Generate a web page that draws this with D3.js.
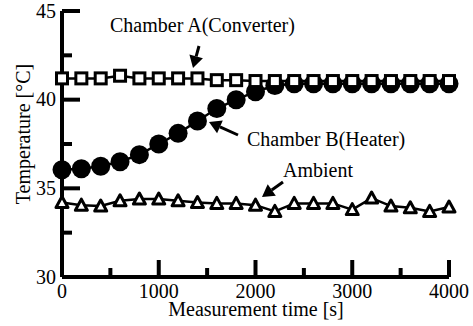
<!DOCTYPE html>
<html>
<head>
<meta charset="utf-8">
<script src="https://cdn.jsdelivr.net/npm/d3@7"></script>
<style>
  body { margin: 0; background: #fff; }
  text { font-family: "Liberation Serif", "Times New Roman", serif; fill: #000; }
</style>
</head>
<body>
<div id="chart"></div>
<script>
// measurement times [s], one sample every 200 s
var times = [0, 200, 400, 600, 800, 1000, 1200, 1400, 1600, 1800, 2000,
  2200, 2400, 2600, 2800, 3000, 3200, 3400, 3600, 3800, 4000];

var chamberA = [41.2, 41.2, 41.2, 41.35, 41.2, 41.2, 41.2, 41.2, 41.1, 41.1, 41.05,
  41.05, 41.05, 41.05, 41.05, 41.05, 41.05, 41.05, 41.05, 41.05, 41.05];
var chamberB = [36.05, 36.1, 36.25, 36.5, 36.9, 37.5, 38.1, 38.8, 39.5, 40.0, 40.45,
  40.8, 40.9, 40.9, 40.9, 40.9, 40.9, 40.9, 40.9, 40.9, 40.9];
var ambient = [34.2, 34.05, 34.0, 34.3, 34.4, 34.4, 34.3, 34.2, 34.15, 34.15, 34.05,
  33.7, 34.15, 34.15, 34.15, 33.8, 34.45, 34.0, 33.9, 33.7, 33.95];

var xMajor = [0, 1000, 2000, 3000, 4000];
var xMinor = [500, 1500, 2500, 3500];
var yMajor = [30, 35, 40, 45];
var yMinor = [32.5, 37.5, 42.5];

var width = 473,
  height = 326;

var x = d3.scaleLinear().domain([0, 4000]).range([62, 449]);
var y = d3.scaleLinear().domain([30, 45]).range([277, 11]);

var svg = d3.select("#chart").append("svg")
    .attr("width", width)
    .attr("height", height);

// axes: thick frame, ticks pointing inward
var frame = svg.append("g").attr("stroke", "#000").attr("stroke-width", 4);
frame.append("line").attr("x1", x(0)).attr("x2", x(0)).attr("y1", y(45)).attr("y2", y(30));
frame.append("line").attr("x1", x(0)).attr("x2", x(4000)).attr("y1", y(30)).attr("y2", y(30));

frame.selectAll(".ymaj").data(yMajor).enter().append("line")
    .attr("x1", x(0)).attr("x2", x(0) + 18)
    .attr("y1", function(d) { return y(d); }).attr("y2", function(d) { return y(d); });
frame.selectAll(".ymin").data(yMinor).enter().append("line")
    .attr("x1", x(0)).attr("x2", x(0) + 10)
    .attr("y1", function(d) { return y(d); }).attr("y2", function(d) { return y(d); });
frame.selectAll(".xmaj").data(xMajor).enter().append("line")
    .attr("x1", function(d) { return x(d); }).attr("x2", function(d) { return x(d); })
    .attr("y1", y(30)).attr("y2", y(30) - 17);
frame.selectAll(".xmin").data(xMinor).enter().append("line")
    .attr("x1", function(d) { return x(d); }).attr("x2", function(d) { return x(d); })
    .attr("y1", y(30)).attr("y2", y(30) - 9);

svg.selectAll(".ylab").data(yMajor).enter().append("text")
    .attr("x", x(0) - 6)
    .attr("y", function(d) { return y(d); })
    .attr("dy", "0.34em")
    .attr("text-anchor", "end")
    .style("font-size", "20px")
    .text(function(d) { return d; });

svg.selectAll(".xlab").data(xMajor).enter().append("text")
    .attr("x", function(d) { return x(d); })
    .attr("y", y(30) + 21)
    .attr("text-anchor", "middle")
    .style("font-size", "20px")
    .text(function(d) { return d; });

svg.append("text")
    .attr("x", 256).attr("y", 316)
    .attr("text-anchor", "middle")
    .style("font-size", "20px")
    .text("Measurement time [s]");

svg.append("text")
    .attr("transform", "translate(30,134) rotate(-90)")
    .attr("text-anchor", "middle")
    .style("font-size", "20px")
    .text("Temperature [°C]");

// series
var line = d3.line()
    .x(function(d, i) { return x(times[i]); })
    .y(function(d) { return y(d); });

[ambient, chamberA, chamberB].forEach(function(s) {
  svg.append("path")
      .attr("d", line(s))
      .attr("fill", "none")
      .attr("stroke", "#000")
      .attr("stroke-width", 2.5);
});

svg.selectAll(".ci").data(chamberB).enter().append("circle")
    .attr("cx", function(d, i) { return x(times[i]); })
    .attr("cy", function(d) { return y(d); })
    .attr("r", 9.5)
    .attr("fill", "#000");

// squares sit on top of the circles where the two series meet
svg.selectAll(".sq").data(chamberA).enter().append("rect")
    .attr("x", function(d, i) { return x(times[i]) - 5.5; })
    .attr("y", function(d) { return y(d) - 5.5; })
    .attr("width", 11).attr("height", 11)
    .attr("fill", "#fff")
    .attr("stroke", "#000")
    .attr("stroke-width", 3);

svg.selectAll(".tr").data(ambient).enter().append("path")
    .attr("transform", function(d, i) { return "translate(" + x(times[i]) + "," + y(d) + ")"; })
    .attr("d", "M0,-6 L6,5 L-6,5 Z")
    .attr("fill", "#fff")
    .attr("stroke", "#000")
    .attr("stroke-width", 3)
    .attr("stroke-linejoin", "round");

// annotations
var notes = [
  { label: "Chamber A(Converter)", tx: 110, ty: 32, from: [199, 46], to: [193, 68] },
  { label: "Chamber B(Heater)", tx: 247, ty: 146, from: [238, 135], to: [209, 122] },
  { label: "Ambient", tx: 283, ty: 177, from: [283, 182], to: [262, 197] }
];

notes.forEach(function(n) {
  svg.append("text")
      .attr("x", n.tx).attr("y", n.ty)
      .style("font-size", "20px")
      .text(n.label);
  var dx = n.to[0] - n.from[0], dy = n.to[1] - n.from[1];
  var len = Math.sqrt(dx * dx + dy * dy), ux = dx / len, uy = dy / len;
  var bx = n.to[0] - ux * 12, by = n.to[1] - uy * 12;
  svg.append("line")
      .attr("x1", n.from[0]).attr("y1", n.from[1])
      .attr("x2", bx).attr("y2", by)
      .attr("stroke", "#000").attr("stroke-width", 3);
  svg.append("path")
      .attr("d", "M" + n.to[0] + "," + n.to[1] +
        "L" + (bx - uy * 7) + "," + (by + ux * 7) +
        "L" + (bx + uy * 7) + "," + (by - ux * 7) + "Z")
      .attr("fill", "#000");
});
</script>
</body>
</html>
